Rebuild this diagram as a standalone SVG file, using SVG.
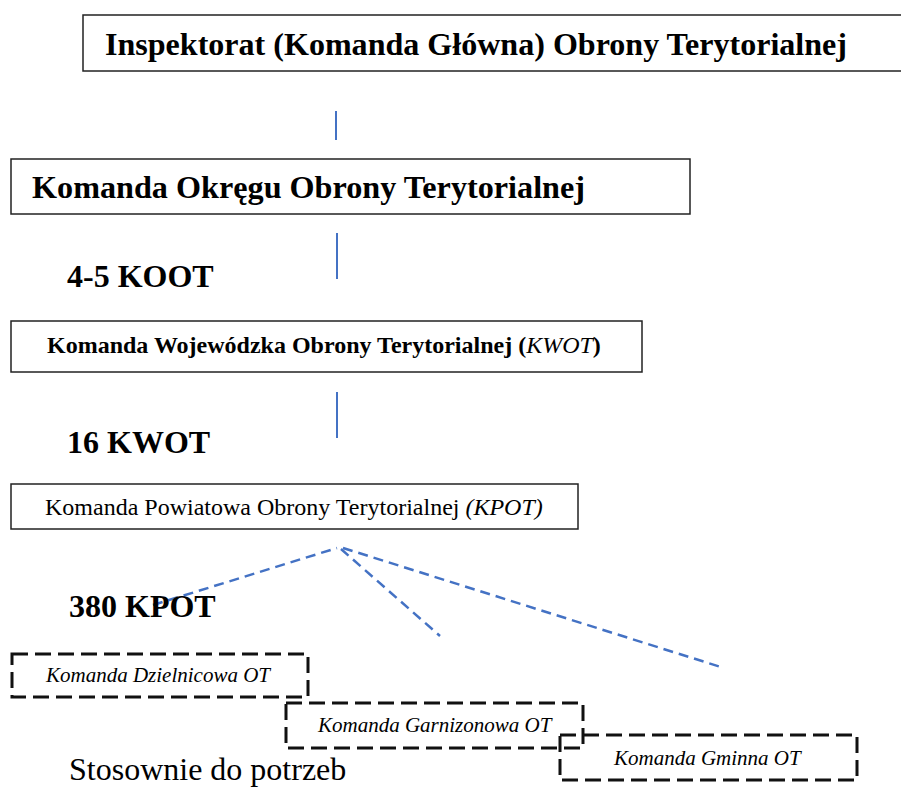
<svg xmlns="http://www.w3.org/2000/svg" width="901" height="787" viewBox="0 0 901 787">
<style>
.box{fill:#fff;stroke:#222;stroke-width:1.5}
.dbox{fill:none;stroke:#111;stroke-width:3;stroke-dasharray:16 7}
.t{font-family:"Liberation Serif","Times New Roman",serif;fill:#000}
.b{font-weight:bold}
.i{font-style:italic}
.v{stroke:#4472C4;stroke-width:2;fill:none}
.d{stroke:#4472C4;stroke-width:2.5;fill:none;stroke-dasharray:10 6}
</style>
<rect width="901" height="787" fill="#fff"/>
<g id="connectors">
<line class="v" x1="336" y1="111" x2="336" y2="140"/>
<line class="v" x1="337" y1="233" x2="337" y2="279"/>
<line class="v" x1="337" y1="392" x2="337" y2="438"/>
<line class="d" x1="153" y1="605" x2="337" y2="548"/>
<line class="d" x1="341" y1="549" x2="440" y2="636"/>
<line class="d" x1="343" y1="548" x2="724" y2="668"/>
</g>
<g id="n1">
<rect class="box" x="83" y="15" width="830" height="56"/>
<text class="t b" x="105" y="55" font-size="32" textLength="742" lengthAdjust="spacingAndGlyphs">Inspektorat (Komanda Główna) Obrony Terytorialnej</text>
</g>
<g id="n2">
<rect class="box" x="11" y="159" width="679" height="55"/>
<text class="t b" x="32" y="198" font-size="32" textLength="553" lengthAdjust="spacingAndGlyphs">Komanda Okręgu Obrony Terytorialnej</text>
</g>
<g id="l1"><text class="t b" x="67" y="287" font-size="32">4-5 KOOT</text></g>
<g id="n3">
<rect class="box" x="11" y="321" width="631" height="51"/>
<text class="t" x="47" y="353" font-size="24"><tspan class="b">Komanda Wojewódzka Obrony Terytorialnej (</tspan><tspan class="i">KWOT</tspan><tspan class="b">)</tspan></text>
</g>
<g id="l2"><text class="t b" x="67" y="453" font-size="32">16 KWOT</text></g>
<g id="n4">
<rect class="box" x="11" y="484" width="567" height="45"/>
<text class="t" x="45" y="515" font-size="24">Komanda Powiatowa Obrony Terytorialnej <tspan class="i">(KPOT)</tspan></text>
</g>
<g id="l3"><text class="t b" x="69" y="617" font-size="32">380 KPOT</text></g>
<g id="n5">
<rect class="dbox" x="12" y="654" width="296" height="43"/>
<text class="t i" x="46" y="682" font-size="21">Komanda Dzielnicowa OT</text>
</g>
<g id="n6">
<rect class="dbox" x="286" y="703" width="297" height="45"/>
<text class="t i" x="318" y="732" font-size="21">Komanda Garnizonowa OT</text>
</g>
<g id="n7">
<rect class="dbox" x="560" y="735" width="297" height="45"/>
<text class="t i" x="614" y="765" font-size="21">Komanda Gminna OT</text>
</g>
<g id="l4"><text class="t" x="69" y="780" font-size="32">Stosownie do potrzeb</text></g>
</svg>
